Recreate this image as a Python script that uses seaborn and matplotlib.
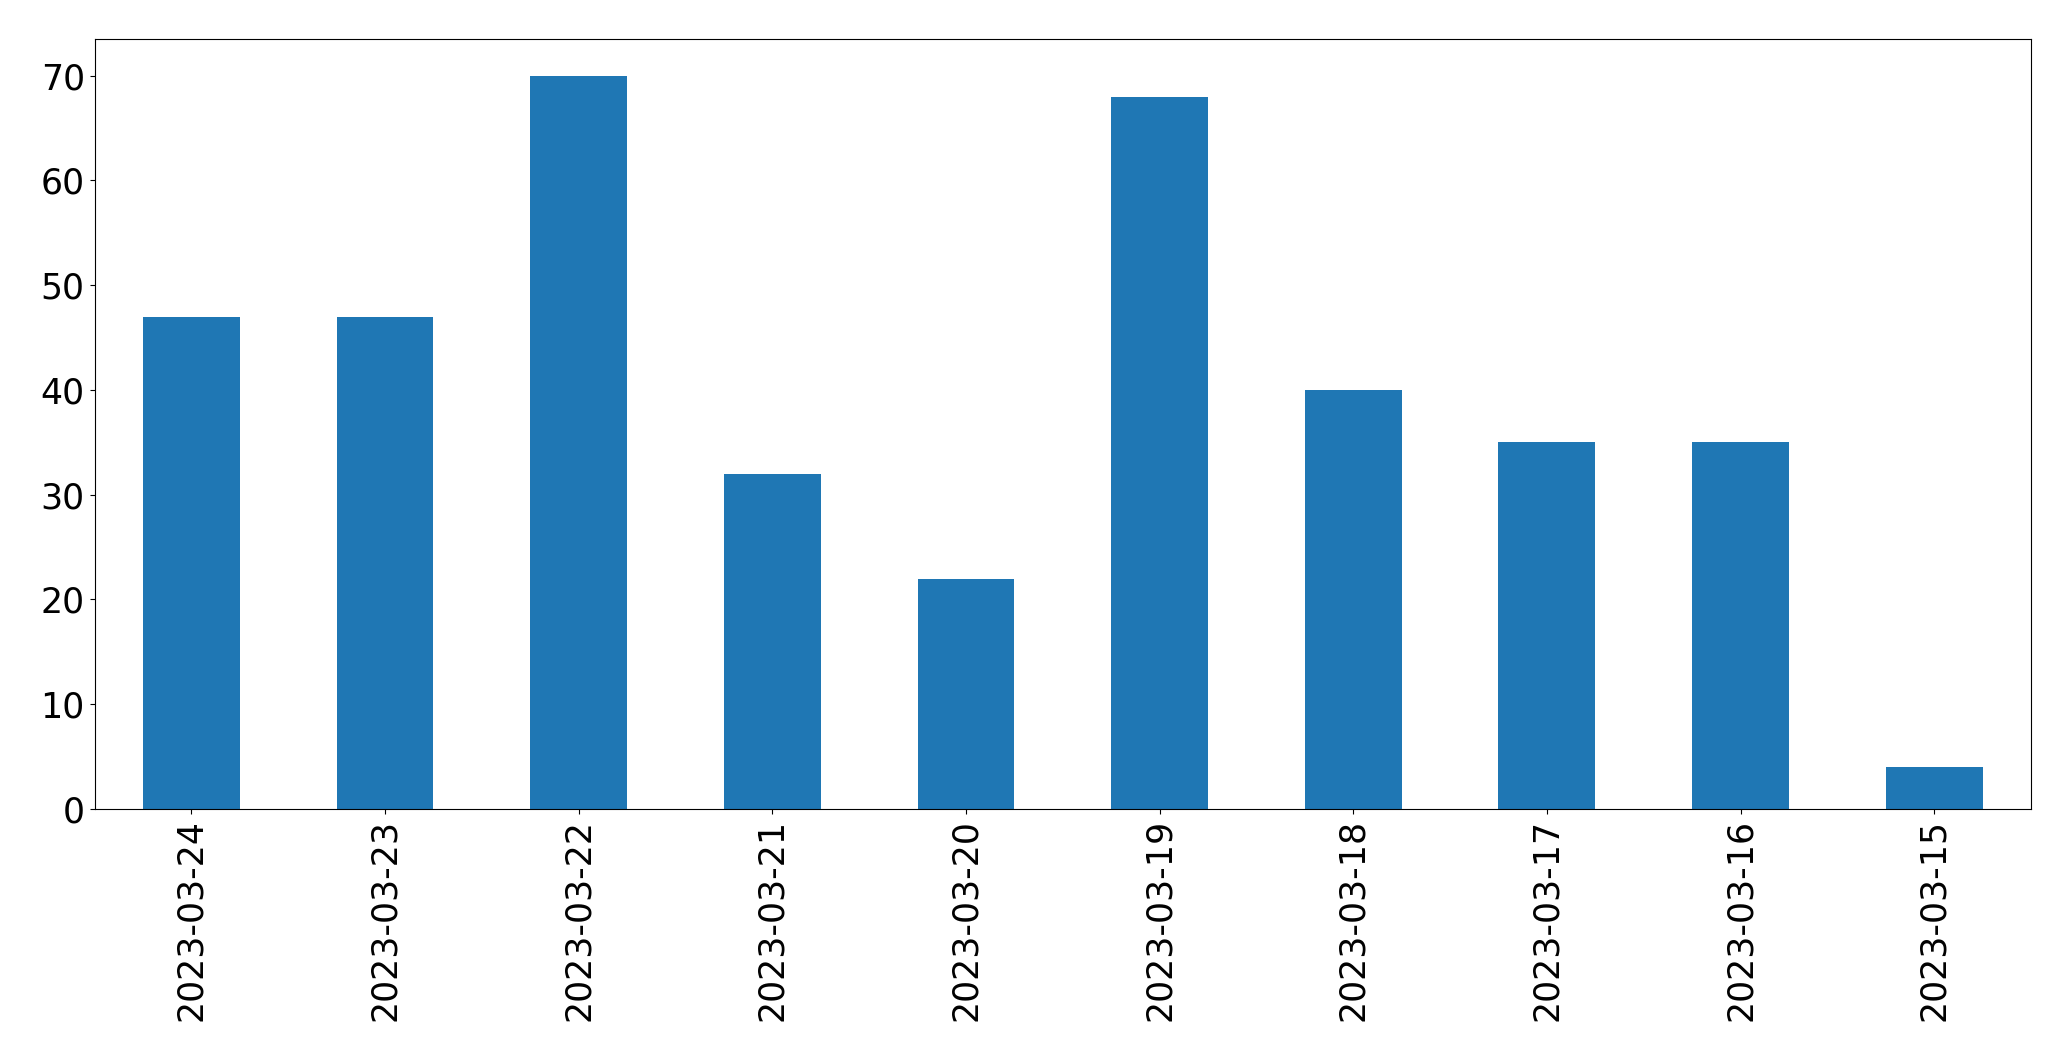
import matplotlib
matplotlib.use("Agg")
import matplotlib.pyplot as plt
import seaborn as sns

# daily counts, newest first
dates = ['2023-03-24', '2023-03-23', '2023-03-22', '2023-03-21', '2023-03-20',
         '2023-03-19', '2023-03-18', '2023-03-17', '2023-03-16', '2023-03-15']
counts = [47, 47, 70, 32, 22, 68, 40, 35, 35, 4]

fig = plt.figure(figsize=(20.71, 10.61), dpi=100)
ax = fig.add_axes([94.5 / 2071, 1 - 809 / 1061, (2031 - 94.5) / 2071, (809 - 39) / 1061])

sns.barplot(x=dates, y=counts, order=dates, color='#1f77b4', saturation=1,
            width=0.5, linewidth=0, ax=ax)

ax.set_xlim(-0.5, 9.5)
ax.set_ylim(0, 73.5)
ax.set_xlabel('')
ax.set_ylabel('')
ax.tick_params(axis='both', labelsize=25)
plt.setp(ax.get_xticklabels(), rotation=90)

fig.savefig('out.png', dpi=100)
